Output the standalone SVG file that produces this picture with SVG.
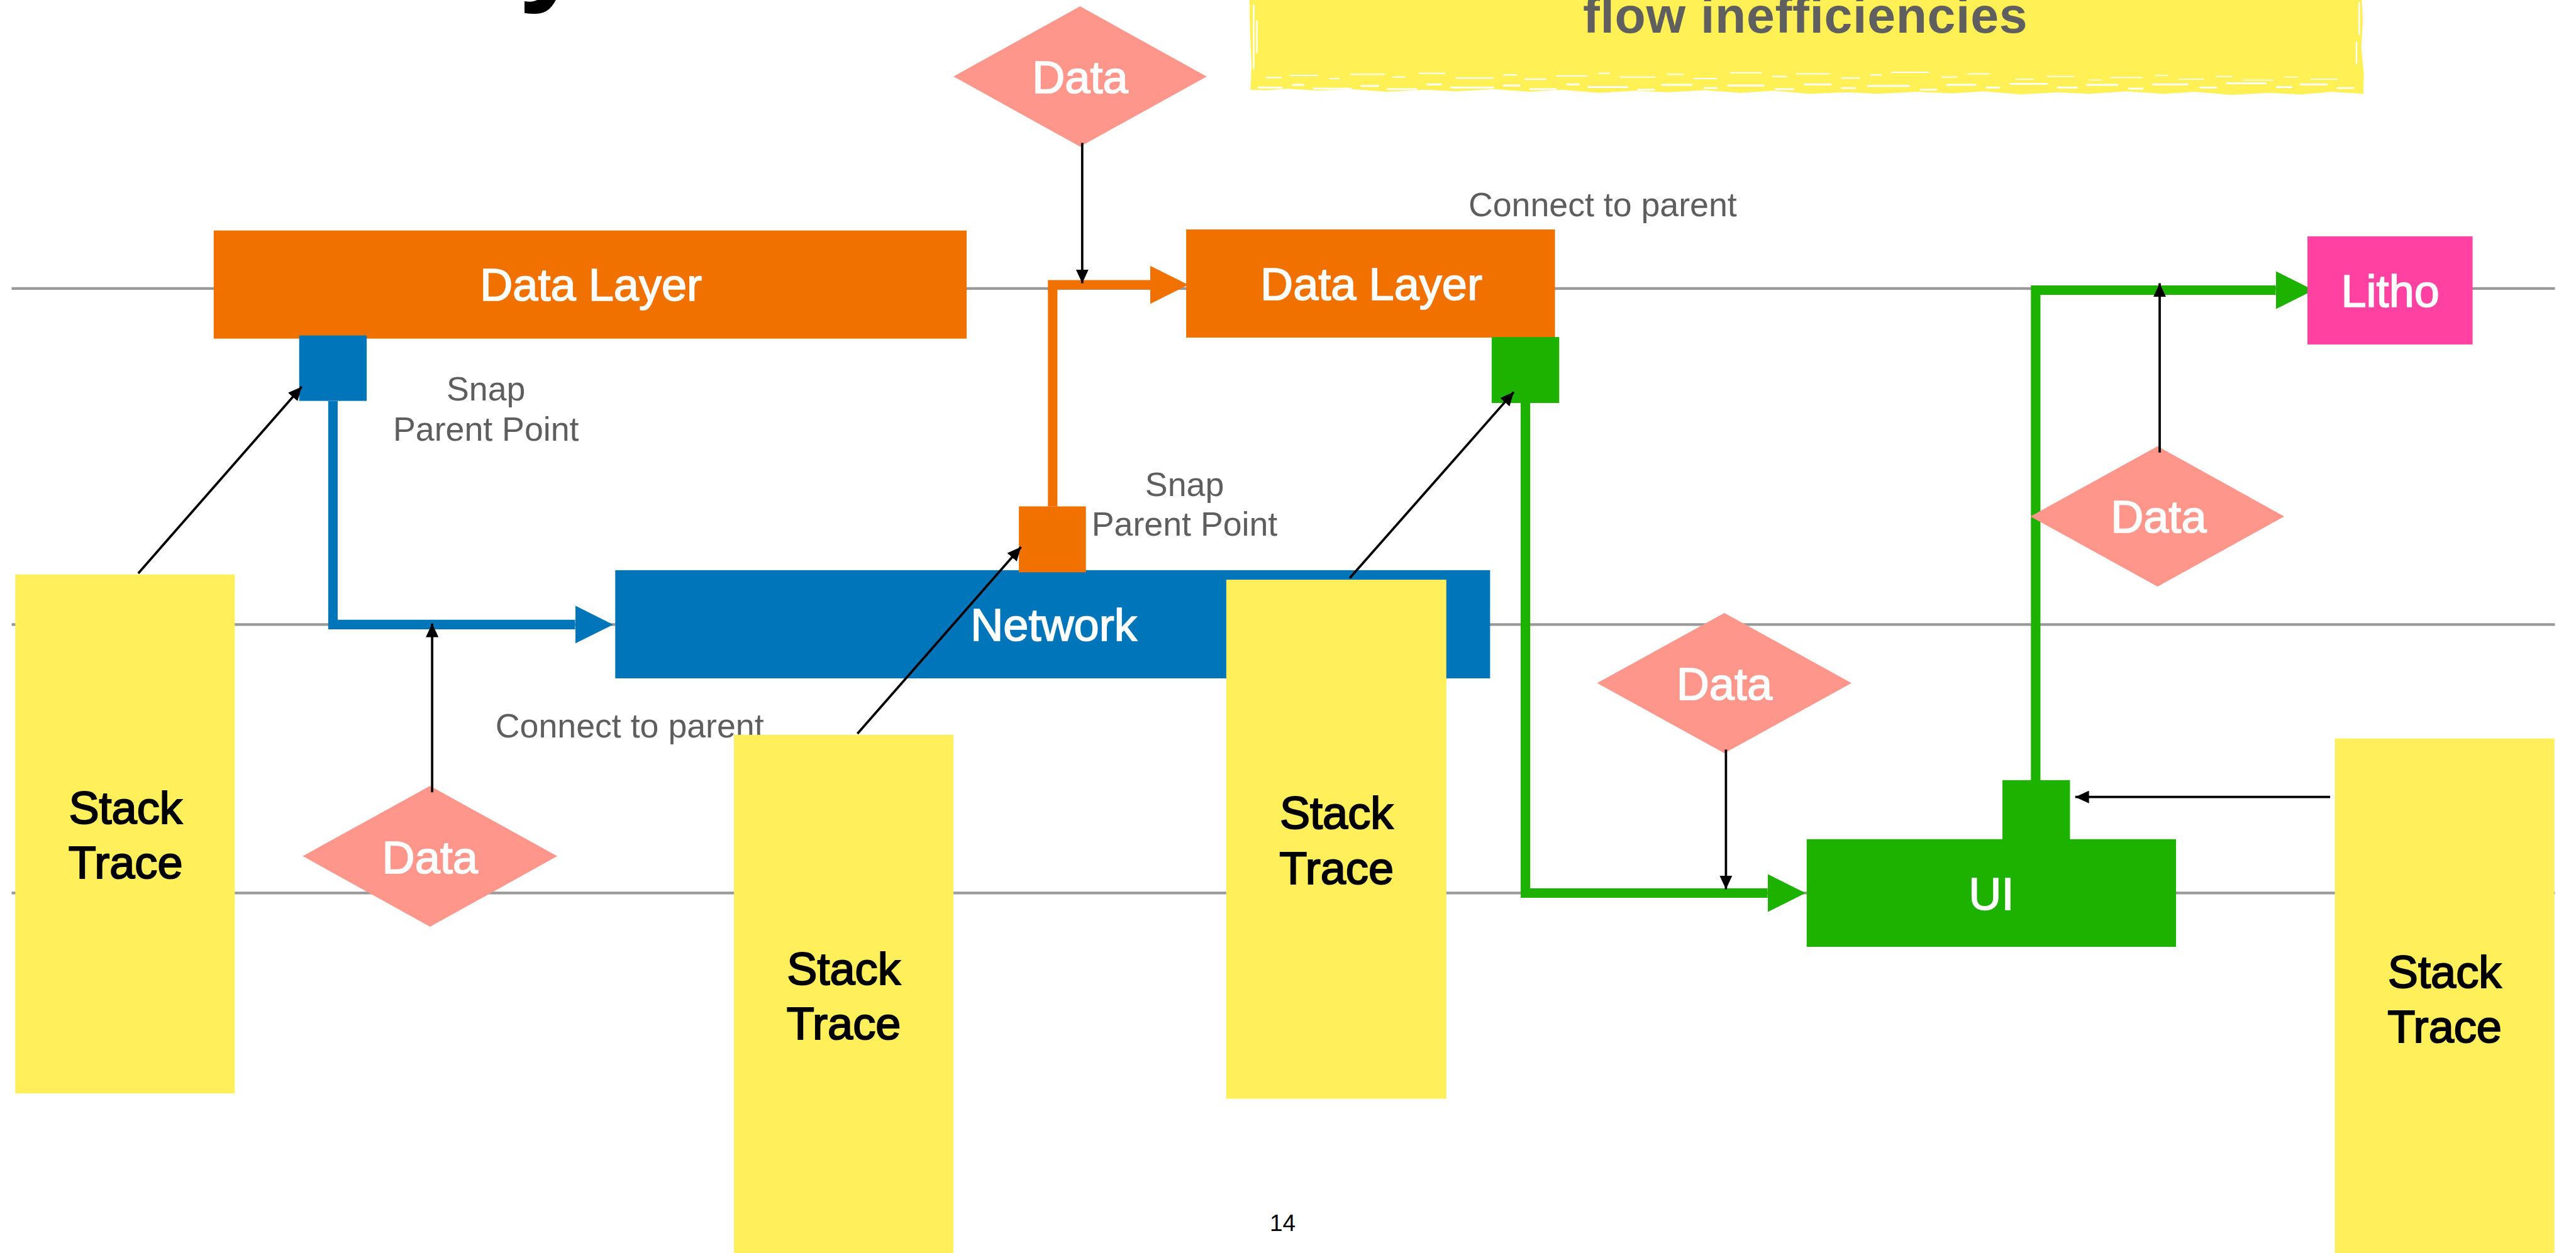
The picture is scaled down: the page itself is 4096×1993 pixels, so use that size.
<svg xmlns="http://www.w3.org/2000/svg" width="4096" height="1993" viewBox="0 0 4096 1993">
  <defs>
    <style>
      .lane{stroke:#999999;stroke-width:5;fill:none}
      .flow{fill:none;stroke-width:18;stroke-linejoin:miter;stroke-linecap:butt}
      .link{fill:none;stroke:#000;stroke-width:4.5}
      .name{font-family:"Liberation Sans",Arial,Helvetica,sans-serif;font-size:86px;fill:#fff;stroke:#fff;stroke-width:2;text-anchor:middle}
      .stack{font-family:"Liberation Sans",Arial,Helvetica,sans-serif;font-size:86px;fill:#000;stroke:#000;stroke-width:2.5;text-anchor:middle}
      .note{font-family:"Liberation Sans",Arial,Helvetica,sans-serif;font-size:64px;fill:#5e5e5e}
      .diamond{fill:#fe968b}
      .sticky{fill:#ffef5a}
      .streak{stroke:#fff;fill:none;stroke-linecap:round}
    </style>
    <marker id="tip" markerUnits="userSpaceOnUse" markerWidth="26" markerHeight="24" refX="26" refY="12" orient="auto">
      <path d="M0,0 L26,12 L0,24 Z" fill="#000"/>
    </marker>
    <marker id="head-blue" markerUnits="strokeWidth" markerWidth="4" markerHeight="4" refX="0" refY="2" orient="auto">
      <path d="M0,0 L4,2 L0,4 Z" fill="#0075ba"/>
    </marker>
    <marker id="head-orange" markerUnits="strokeWidth" markerWidth="4" markerHeight="4" refX="0" refY="2" orient="auto">
      <path d="M0,0 L4,2 L0,4 Z" fill="#f07100"/>
    </marker>
    <marker id="head-green" markerUnits="strokeWidth" markerWidth="4" markerHeight="4" refX="0" refY="2" orient="auto">
      <path d="M0,0 L4,2 L0,4 Z" fill="#1db100"/>
    </marker>
  </defs>

  <rect width="4096" height="1993" fill="#ffffff"/>

  <g transform="scale(0.839)">
    <!-- swimlane rules -->
    <g id="lanes">
      <line class="lane" x1="22" y1="547" x2="4842" y2="547"/>
      <line class="lane" x1="22" y1="1184" x2="4842" y2="1184"/>
      <line class="lane" x1="22" y1="1693" x2="4842" y2="1693"/>
    </g>

    <!-- heading fragment above the frame -->
    <text x="982" y="-22" font-family="'Liberation Sans',Arial,sans-serif" font-weight="bold" font-size="230" fill="#000">y</text>

    <!-- brushed banner -->
    <g id="banner">
      <path fill="#fff056" d="M2368,0 L4476,0 L4478,40 L4475,90 L4480,140 L4479,178 L4420,174 L4360,179 L4300,176 L4230,180 L4160,174 L4100,178 L4030,173 L3960,178 L3900,175 L3830,179 L3760,173 L3700,177 L3630,174 L3560,178 L3500,175 L3430,178 L3360,172 L3300,176 L3230,171 L3160,175 L3100,172 L3030,176 L2960,170 L2900,174 L2830,169 L2760,173 L2700,170 L2630,174 L2560,169 L2500,172 L2440,168 L2400,171 L2370,170 L2372,120 L2369,60 Z"/>
      <path class="streak" stroke-width="2.5" d="M2400,147 h28 M2445,143 h52 M2520,149 h18 M2560,141 h64 M2640,146 h22 M2690,139 h48 M2760,148 h70 M2850,142 h24 M2890,150 h40 M2950,144 h58 M3030,139 h20 M3070,146 h66 M3160,141 h30 M3210,149 h44 M3280,138 h58 M3360,145 h26 M3405,140 h62 M3490,148 h34 M3545,142 h20 M3585,137 h70 M3680,146 h28 M3730,140 h40"/>
      <path class="streak" stroke-width="3.5" d="M2385,166 h44 M2450,161 h20 M2490,168 h70 M2580,163 h32 M2630,169 h54 M2705,160 h26 M2750,166 h80 M2850,162 h30 M2900,169 h48 M2970,160 h22 M3010,165 h74 M3105,170 h30 M3150,161 h56 M3230,167 h24 M3275,162 h68 M3365,169 h34 M3420,160 h50 M3490,167 h26 M3540,163 h78 M3640,170 h30 M3690,161 h54 M3765,166 h24 M3810,159 h70 M3900,166 h36 M3955,161 h58 M4035,168 h26 M4080,160 h66 M4170,166 h30 M4220,158 h74 M4315,165 h28 M4360,160 h50 M4430,167 h30"/>
      <path class="streak" stroke-width="2" d="M3820,150 h34 M3880,145 h50 M3960,152 h22 M4000,147 h60 M4085,143 h24 M4130,150 h46 M4200,145 h30 M4250,152 h58 M4330,146 h24 M4380,150 h50"/>
      <path class="streak" stroke-width="3" d="M2376,10 v120 M2382,40 v60 M4471,5 v60 M4466,80 v40"/>
      <text x="3000" y="62" textLength="842" lengthAdjust="spacing" font-family="'Liberation Sans',Arial,sans-serif" font-weight="bold" font-size="96" fill="#5f5f5f">flow inefficiencies</text>
    </g>

    <!-- thick coloured flows between layers -->
    <g id="flows">
      <path class="flow" stroke="#0075ba" d="M631,760 V1184 H1090" marker-end="url(#head-blue)"/>
      <path class="flow" stroke="#f07100" d="M1995,960 V540 H2180" marker-end="url(#head-orange)"/>
      <path class="flow" stroke="#1db100" d="M2891,764 V1693 H3350" marker-end="url(#head-green)"/>
      <path class="flow" stroke="#1db100" d="M3858,1479 V550 H4313" marker-end="url(#head-green)"/>
    </g>

    <g id="data-layer-1">
      <rect x="405" y="437" width="1427" height="205" fill="#f07100"/>
      <text class="name" x="1120" y="570">Data Layer</text>
    </g>
    <rect id="snap-blue" x="567" y="636" width="128" height="124" fill="#0075ba"/>

    <g id="data-layer-2">
      <rect x="2248" y="435" width="699" height="205" fill="#f07100"/>
      <text class="name" x="2599" y="568">Data Layer</text>
    </g>
    <rect id="snap-green" x="2827" y="639" width="128" height="125" fill="#1db100"/>

    <g id="network">
      <rect x="1166" y="1081" width="1658" height="205" fill="#0075ba"/>
      <text class="name" x="1997" y="1215">Network</text>
    </g>
    <rect id="snap-orange" x="1931" y="960" width="127" height="125" fill="#f07100"/>

    <g id="litho">
      <rect x="4373" y="448" width="313" height="205" fill="#ff42a1"/>
      <text class="name" x="4530" y="582">Litho</text>
    </g>

    <g id="ui">
      <rect x="3424" y="1591" width="700" height="204" fill="#1db100"/>
      <rect x="3795" y="1479" width="128" height="113" fill="#1db100"/>
      <text class="name" x="3774" y="1725">UI</text>
    </g>

    <g id="data-top">
      <polygon class="diamond" points="2047,12 2287,145 2047,278 1807,145"/>
      <text class="name" x="2047" y="176">Data</text>
    </g>
    <g id="data-left">
      <polygon class="diamond" points="815,1490 1056,1623 815,1757 574,1623"/>
      <text class="name" x="815" y="1656">Data</text>
    </g>
    <g id="data-middle">
      <polygon class="diamond" points="3268,1162 3509,1295 3268,1428 3027,1295"/>
      <text class="name" x="3268" y="1327">Data</text>
    </g>
    <g id="data-right">
      <polygon class="diamond" points="4089,846 4329,979 4089,1112 3848,979"/>
      <text class="name" x="4091" y="1010">Data</text>
    </g>

    <g id="notes">
      <text class="note" x="921" y="759" text-anchor="middle">Snap</text>
      <text class="note" x="921" y="836" text-anchor="middle">Parent Point</text>
      <text class="note" x="2245" y="940" text-anchor="middle">Snap</text>
      <text class="note" x="2245" y="1016" text-anchor="middle">Parent Point</text>
      <text class="note" x="939" y="1398">Connect to parent</text>
      <text class="note" x="2783" y="410">Connect to parent</text>
    </g>

    <g id="stack-trace-1">
      <rect class="sticky" x="29" y="1089" width="416" height="984"/>
      <text class="stack" x="238" y="1561">Stack</text>
      <text class="stack" x="238" y="1665">Trace</text>
    </g>
    <g id="stack-trace-2">
      <rect class="sticky" x="1391" y="1393" width="416" height="984"/>
      <text class="stack" x="1599" y="1867">Stack</text>
      <text class="stack" x="1599" y="1970">Trace</text>
    </g>
    <g id="stack-trace-3">
      <rect class="sticky" x="2324" y="1099" width="417" height="984"/>
      <text class="stack" x="2533" y="1571">Stack</text>
      <text class="stack" x="2533" y="1676">Trace</text>
    </g>
    <g id="stack-trace-4">
      <rect class="sticky" x="4425" y="1400" width="416" height="984"/>
      <text class="stack" x="4633" y="1872">Stack</text>
      <text class="stack" x="4633" y="1976">Trace</text>
    </g>

    <!-- thin pointers -->
    <g id="links">
      <line class="link" x1="262" y1="1087" x2="572" y2="733" marker-end="url(#tip)"/>
      <line class="link" x1="819" y1="1502" x2="819" y2="1182" marker-end="url(#tip)"/>
      <line class="link" x1="2051" y1="271" x2="2051" y2="537" marker-end="url(#tip)"/>
      <line class="link" x1="1625" y1="1391" x2="1935" y2="1037" marker-end="url(#tip)"/>
      <line class="link" x1="2558" y1="1096" x2="2869" y2="743" marker-end="url(#tip)"/>
      <line class="link" x1="3271" y1="1421" x2="3271" y2="1686" marker-end="url(#tip)"/>
      <line class="link" x1="4093" y1="858" x2="4093" y2="537" marker-end="url(#tip)"/>
      <line class="link" x1="4416" y1="1511" x2="3933" y2="1511" marker-end="url(#tip)"/>
    </g>

    <text x="2431" y="2334" text-anchor="middle" font-family="'Liberation Sans',Arial,sans-serif" font-size="44" fill="#000">14</text>
  </g>
</svg>
